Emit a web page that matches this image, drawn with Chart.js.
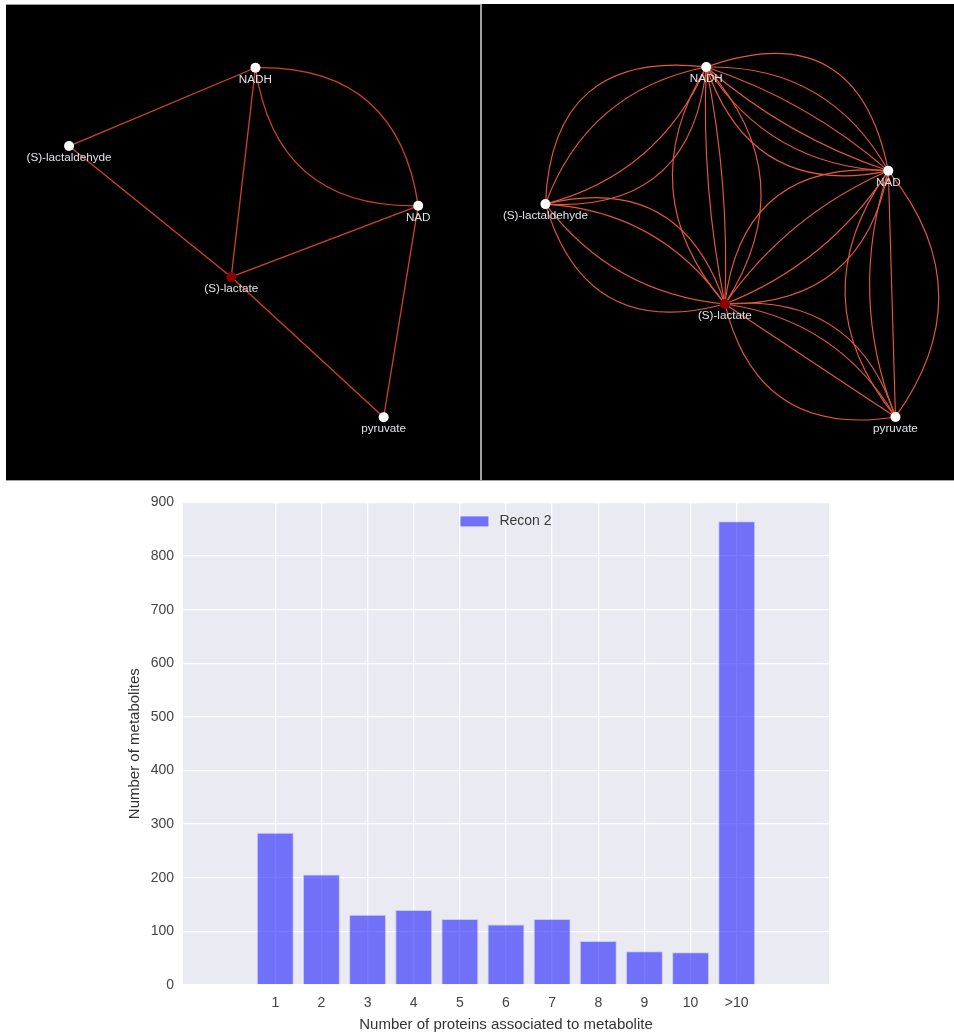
<!DOCTYPE html>
<html>
<head>
<meta charset="utf-8">
<script src="https://cdn.jsdelivr.net/npm/chart.js@4.4.0/dist/chart.umd.min.js"></script>
<style>
body{margin:0;background:#fff;width:954px;height:1035px;overflow:hidden;position:relative}
#marco{position:absolute;left:6px;top:4px;width:948px;height:477px;background:#a0a0a0}
#red1{position:absolute;left:6px;top:5px;background:#000}
#red2{position:absolute;left:482px;top:4px;background:#000}
#barras{position:absolute;left:0;top:485px}
</style>
</head>
<body>
<div id="marco"></div>
<canvas id="red1" width="474" height="475"></canvas>
<canvas id="red2" width="472" height="476"></canvas>
<canvas id="barras" width="954" height="550"></canvas>
<script>
// nodos de la red (mismo orden en los dos paneles)
const nodos = ['NADH', '(S)-lactaldehyde', 'NAD', '(S)-lactate', 'pyruvate']
const coloresNodo = ['#ffffff', '#ffffff', '#ffffff', '#8b0000', '#ffffff']

// posiciones del layout, panel izquierdo y derecho
const redIzqX = [249.7, 59.3, 416, 225, 380.7]
const redIzqY = [59, 139, 200, 272.7, 416]
const redDerX = [224, 59.7, 410, 243, 417.3]
const redDerY = [59.3, 199.3, 165.3, 301.3, 416.7]

// aristas: [origen, destino, curvatura]
const aristasIzq = [
  [1, 0, 0], [1, 3, 0], [0, 3, 0], [0, 2, 0.22], [0, 2, -0.22],
  [3, 2, 0], [3, 4, 0], [2, 4, 0]
]
const aristasDer = [
  [1, 0, 0.27], [1, 0, 0.14], [1, 0, -0.12], [1, 0, -0.24],
  [0, 2, 0.29], [0, 2, 0.15], [0, 2, 0.05], [0, 2, -0.05], [0, 2, -0.13], [0, 2, -0.22],
  [0, 3, 0.19], [0, 3, 0.03], [0, 3, -0.03], [0, 3, -0.18],
  [1, 3, 0.23], [1, 3, 0.12], [1, 3, -0.11], [1, 3, -0.245],
  [2, 3, 0.21], [2, 3, 0.08], [2, 3, -0.07], [2, 3, -0.24],
  [2, 4, 0.19], [2, 4, 0], [2, 4, -0.09], [2, 4, -0.19],
  [3, 4, 0.2], [3, 4, 0.12], [3, 4, 0], [3, 4, -0.23]
]

// histograma
const etiquetasX = ['1', '2', '3', '4', '5', '6', '7', '8', '9', '10', '>10']
const numMetabolitos = [284, 206, 131, 140, 123, 113, 123, 82, 63, 61, 865]

const fuente = '"Liberation Sans", Arial, sans-serif'

// dibuja las aristas como curvas entre los puntos ya ubicados por las escalas
const pluginAristas = {
  id: 'aristas',
  beforeDatasetsDraw(chart, args, opts) {
    const ctx = chart.ctx
    const pts = chart.getDatasetMeta(0).data
    ctx.save()
    ctx.strokeStyle = opts.color
    ctx.lineWidth = opts.width
    opts.lista.forEach(([a, b, c]) => {
      const p1 = pts[a], p2 = pts[b]
      const dx = p2.x - p1.x, dy = p2.y - p1.y
      const cx = (p1.x + p2.x) / 2 + 2 * c * dy
      const cy = (p1.y + p2.y) / 2 - 2 * c * dx
      ctx.beginPath()
      ctx.moveTo(p1.x, p1.y)
      ctx.quadraticCurveTo(cx, cy, p2.x, p2.y)
      ctx.stroke()
    })
    ctx.restore()
  }
}

// nombre de cada metabolito debajo del nodo
const pluginEtiquetas = {
  id: 'etiquetas',
  afterDatasetsDraw(chart) {
    const ctx = chart.ctx
    ctx.save()
    ctx.font = '11.7px ' + fuente
    ctx.fillStyle = '#dfe3e8'
    ctx.textAlign = 'center'
    ctx.textBaseline = 'middle'
    chart.getDatasetMeta(0).data.forEach((p, i) => {
      ctx.fillText(nodos[i], p.x, p.y + 12)
    })
    ctx.restore()
  }
}

function dibujaRed(id, xs, ys, aristas, colorArista, anchoArista) {
  const canvas = document.getElementById(id)
  new Chart(canvas, {
    type: 'scatter',
    data: {
      datasets: [{
        data: xs.map((v, i) => ({ x: v, y: ys[i] })),
        pointRadius: 5,
        pointBackgroundColor: coloresNodo,
        pointBorderWidth: 0
      }]
    },
    options: {
      responsive: false,
      animation: false,
      events: [],
      layout: { padding: 0 },
      scales: {
        x: { min: 0, max: canvas.width, display: false },
        y: { min: 0, max: canvas.height, reverse: true, display: false }
      },
      plugins: {
        legend: { display: false },
        tooltip: { enabled: false },
        aristas: { lista: aristas, color: colorArista, width: anchoArista }
      }
    },
    plugins: [pluginAristas, pluginEtiquetas]
  })
}

dibujaRed('red1', redIzqX, redIzqY, aristasIzq, '#cf4327', 1.3)
dibujaRed('red2', redDerX, redDerY, aristasDer, '#e2593b', 1.15)

// fondo gris del area de datos
const pluginFondo = {
  id: 'fondo',
  beforeDraw(chart) {
    const { ctx, chartArea: a } = chart
    ctx.save()
    ctx.fillStyle = '#eaeaf2'
    ctx.fillRect(a.left, a.top, a.right - a.left, a.bottom - a.top)
    ctx.restore()
  }
}

// leyenda dentro del area, centrada arriba
const pluginLeyenda = {
  id: 'leyendaInterna',
  afterDatasetsDraw(chart) {
    const { ctx, chartArea: a } = chart
    const ds = chart.data.datasets[0]
    ctx.save()
    ctx.font = '14px ' + fuente
    const tw = ctx.measureText(ds.label).width
    const total = 28 + 11 + tw
    const x0 = (a.left + a.right) / 2 - total / 2
    const yc = a.top + 19
    ctx.fillStyle = ds.backgroundColor
    ctx.fillRect(x0, yc - 5, 28, 10)
    ctx.fillStyle = '#3a3a3a'
    ctx.textBaseline = 'middle'
    ctx.fillText(ds.label, x0 + 39, yc)
    ctx.restore()
  }
}

new Chart(document.getElementById('barras'), {
  type: 'bar',
  data: {
    datasets: [{
      label: 'Recon 2',
      data: etiquetasX.map((l, i) => ({ x: i + 1, y: numMetabolitos[i] })),
      backgroundColor: 'rgba(0, 0, 255, 0.52)',
      borderColor: 'rgba(190, 190, 235, 0.7)',
      borderWidth: 1,
      categoryPercentage: 1,
      barPercentage: 0.8
    }]
  },
  options: {
    responsive: false,
    animation: false,
    events: [],
    layout: { padding: { left: 122, right: 125, top: 17, bottom: 0 } },
    scales: {
      x: {
        type: 'linear',
        min: -1,
        max: 13,
        offset: false,
        afterBuildTicks: (s) => { s.ticks = etiquetasX.map((l, i) => ({ value: i + 1 })) },
        afterFit: (s) => { s.height = 50 },
        ticks: {
          autoSkip: false,
          maxRotation: 0,
          padding: 10,
          color: '#444',
          font: { family: fuente, size: 14 },
          callback: (v) => etiquetasX[v - 1]
        },
        grid: { offset: false, color: '#ffffff', lineWidth: 1.3, drawTicks: false },
        border: { display: false },
        title: {
          display: true,
          text: 'Number of proteins associated to metabolite',
          color: '#333',
          font: { family: fuente, size: 15 },
          padding: { top: 0, bottom: 1 }
        }
      },
      y: {
        min: 0,
        max: 900,
        afterFit: (s) => { s.width = 61 },
        ticks: {
          stepSize: 100,
          padding: 9,
          color: '#444',
          font: { family: fuente, size: 14 }
        },
        grid: { color: '#ffffff', lineWidth: 1.3, drawTicks: false },
        border: { display: false },
        title: {
          display: true,
          text: 'Number of metabolites',
          color: '#333',
          font: { family: fuente, size: 15 },
          padding: { top: 4, bottom: 0 }
        }
      }
    },
    plugins: {
      legend: { display: false },
      tooltip: { enabled: false }
    }
  },
  plugins: [pluginFondo, pluginLeyenda]
})
</script>
</body>
</html>
